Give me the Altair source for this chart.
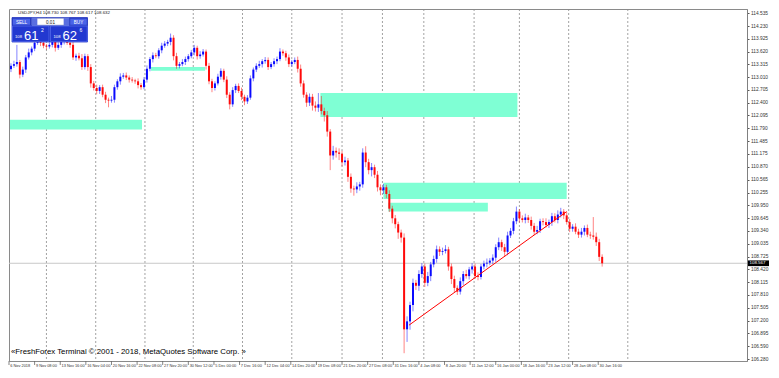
import altair as alt
import pandas as pd

# ---------------- data ----------------
first_open = 113.20
close = [
    113.28, 113.32, 113.37, 113.07, 113.19, 113.48, 113.60, 113.69, 113.83, 113.92,
    113.83, 113.76, 113.74, 113.78, 113.85, 113.71, 113.78, 113.85, 113.88, 113.83,
    113.78, 113.48, 113.52, 113.46, 113.25, 113.51, 113.25, 112.86, 112.75, 112.68,
    112.77, 112.59, 112.47, 112.45, 112.47, 112.77, 112.91, 113.02, 113.05, 113.00,
    112.95, 112.93, 112.91, 112.82, 112.77, 112.95, 113.21, 113.44, 113.53, 113.51,
    113.65, 113.76, 113.81, 113.85, 113.95, 113.51, 113.28, 113.32, 113.37, 113.44,
    113.51, 113.60, 113.71, 113.51, 113.55, 113.62, 113.28, 112.91, 112.75, 112.86,
    113.02, 113.16, 112.95, 112.59, 112.36, 112.70, 112.80, 112.68, 112.54, 112.43,
    112.52, 112.98, 113.19, 113.28, 113.32, 113.39, 113.42, 113.25, 113.32, 113.39,
    113.44, 113.62, 113.58, 113.48, 113.32, 113.37, 113.42, 113.21, 112.86, 112.59,
    112.40, 112.54, 112.33, 112.28, 112.36, 112.20, 112.10, 111.71, 111.14, 111.25,
    111.21, 111.18, 110.98, 111.02, 110.63, 110.35, 110.33, 110.40, 110.45, 111.21,
    110.98, 110.79, 110.86, 110.68, 110.38, 110.31, 110.38, 110.22, 109.87, 109.64,
    109.50, 109.30, 109.18, 106.99, 107.18, 107.57, 108.10, 108.03, 108.31, 108.49,
    108.10, 108.26, 108.54, 108.67, 108.90, 108.84, 108.86, 108.90, 108.49, 108.19,
    107.98, 107.89, 108.14, 108.31, 108.26, 108.42, 108.49, 108.26, 108.24, 108.49,
    108.56, 108.58, 108.63, 108.70, 108.95, 109.07, 108.95, 108.84, 109.23, 109.34,
    109.57, 109.80, 109.64, 109.60, 109.66, 109.60, 109.46, 109.32, 109.36, 109.57,
    109.55, 109.48, 109.55, 109.69, 109.60, 109.73, 109.80, 109.71, 109.55, 109.39,
    109.44, 109.32, 109.25, 109.32, 109.41, 109.25, 109.23, 109.20, 109.07, 108.72,
    108.567,
]
wick_up = [
    .06, .08, .41, .05, .07, .06, .09, .05, .08, .06,
    .05, .07, .04, .06, .08, .05, .06, .09, .05, .07,
    .06, .08, .05, .07, .10, .06, .05, .07, .06, .08,
    .05, .06, .07, .05, .09, .06, .05, .08, .06, .07,
    .05, .06, .04, .07, .05, .06, .08, .05, .07, .06,
    .05, .07, .06, .05, .10, .06, .08, .05, .07, .06,
    .05, .06, .07, .05, .08, .06, .05, .07, .06, .05,
    .07, .06, .05, .08, .06, .07, .05, .06, .08, .05,
    .06, .07, .05, .06, .08, .05, .07, .06, .05, .07,
    .06, .08, .05, .06, .07, .05, .06, .08, .10, .07,
    .06, .08, .07, .10, .27, .20, .08, .10, .06, .12,
    .08, .10, .07, .09, .06, .08, .07, .10, .06, .10,
    .15, .08, .10, .06, .09, .07, .08, .06, .09, .07,
    .08, .06, .07, .10, .12, .08, .10, .07, .09, .08,
    .07, .10, .06, .08, .09, .07, .08, .10, .06, .07,
    .08, .06, .09, .07, .10, .06, .08, .07, .09, .06,
    .07, .10, .06, .08, .07, .11, .06, .08, .09, .07,
    .08, .12, .06, .07, .09, .06, .08, .07, .10, .06,
    .07, .09, .06, .08, .07, .10, .09, .06, .08, .07,
    .06, .08, .07, .09, .06, .08, .07, .44, .10, .08,
    .06,
]
wick_dn = [
    .07, .05, .06, .09, .06, .08, .05, .07, .06, .05,
    .08, .06, .07, .05, .06, .09, .05, .07, .06, .05,
    .07, .06, .08, .05, .07, .06, .09, .10, .06, .08,
    .07, .06, .08, .16, .05, .07, .06, .08, .05, .06,
    .07, .05, .06, .08, .06, .05, .07, .06, .08, .05,
    .06, .07, .05, .06, .08, .10, .07, .06, .05, .07,
    .06, .05, .07, .08, .06, .05, .09, .07, .10, .06,
    .05, .07, .06, .08, .12, .06, .07, .05, .08, .09,
    .06, .05, .07, .06, .05, .08, .06, .07, .05, .06,
    .07, .05, .06, .08, .07, .06, .05, .09, .08, .07,
    .10, .08, .12, .09, .10, .08, .15, .12, .35, .10,
    .12, .15, .10, .08, .12, .10, .15, .09, .10, .08,
    .12, .10, .15, .08, .10, .12, .09, .10, .08, .12,
    .10, .15, .12, .57, .30, .20, .15, .10, .12, .09,
    .10, .08, .12, .07, .09, .10, .08, .06, .10, .12,
    .10, .08, .07, .09, .06, .08, .10, .07, .08, .06,
    .07, .09, .06, .08, .10, .07, .09, .12, .08, .06,
    .08, .07, .10, .06, .08, .07, .09, .08, .06, .07,
    .08, .06, .07, .09, .06, .08, .07, .09, .06, .08,
    .07, .06, .08, .07, .09, .06, .08, .07, .09, .10,
    .08,
]

price_ticks = [106.280, 106.590, 106.895, 107.200, 107.505, 107.810, 108.115,
               108.420, 108.725, 109.035, 109.340, 109.645, 109.950, 110.255,
               110.565, 110.870, 111.175, 111.485, 111.790, 112.095, 112.400,
               112.705, 113.010, 113.315, 113.620, 113.925, 114.230, 114.535]

time_labels = ["6 Nov 2018", "9 Nov 08:00", "13 Nov 16:00", "16 Nov 04:00",
               "20 Nov 16:00", "22 Nov 08:00", "27 Nov 20:00", "30 Nov 12:00",
               "5 Dec 00:00", "7 Dec 16:00", "12 Dec 04:00", "14 Dec 20:00",
               "19 Dec 08:00", "21 Dec 20:00", "27 Dec 08:00", "31 Dec 16:00",
               "4 Jan 08:00", "8 Jan 20:00", "11 Jan 12:00", "16 Jan 00:00",
               "18 Jan 16:00", "23 Jan 12:00", "28 Jan 08:00", "30 Jan 16:00"]
time_label_bar = [-0.67, 8.0, 16.67, 25.33, 34.0, 42.67, 51.33, 60.0, 68.67,
                  77.33, 86.0, 94.67, 103.33, 112.0, 120.67, 129.33, 138.0,
                  146.67, 155.33, 164.0, 172.67, 181.33, 190.0, 198.67]

week_separators = [12.0, 28.67, 45.33, 61.67, 78.33, 95.0, 112.0, 125.67,
                   139.67, 156.67, 172.0, 188.67, 208.67]

zone_start = [-0.33, 47.33, 104.67, 126.0, 127.67]
zone_end = [44.33, 65.67, 171.33, 188.0, 161.33]
zone_top = [111.99, 113.25, 112.63, 110.49, 110.01]
zone_bottom = [111.76, 113.16, 112.06, 110.10, 109.80]

trend_bar = [134.67, 188.0]
trend_price = [107.09, 109.80]

bid = 108.567
header = "USDJPY,H4  108.730 108.767 108.617 108.632"
copyright_text = "«FreshForex Terminal © 2001 - 2018, MetaQuotes Software Corp. »"

# ---------------- tables ----------------
opens = [first_open] + close[:-1]
df = pd.DataFrame({"k": list(range(len(close))), "open": opens, "close": close})
df["high"] = [max(o, c) + w for o, c, w in zip(opens, close, wick_up)]
df["low"] = [min(o, c) - w for o, c, w in zip(opens, close, wick_dn)]
df["dir"] = ["up" if c >= o else "down" for o, c in zip(opens, close)]

zones = pd.DataFrame({"x1": zone_start, "x2": zone_end, "y1": zone_top, "y2": zone_bottom})
seps = pd.DataFrame({"k": week_separators})
trend = pd.DataFrame({"x1": [trend_bar[0]], "x2": [trend_bar[1]],
                      "y1": [trend_price[0]], "y2": [trend_price[1]]})

W, H = 738, 352
FONT = "Liberation Sans"

tl = pd.DataFrame({"k": time_label_bar, "label": time_labels,
                   "t0": [H] * len(time_labels), "t1": [H + 4] * len(time_labels),
                   "ty": [H + 3] * len(time_labels)})

xs = alt.Scale(domain=[-0.667, 249.0], nice=False, zero=False)
ys = alt.Scale(domain=[106.234, 114.636], nice=False, zero=False)
col = alt.Color("dir:N", scale=alt.Scale(domain=["up", "down"], range=["#0a0aff", "#ff0a0a"]), legend=None)

grid = alt.Chart(seps).mark_rule(color="#8c8c8c", strokeDash=[2, 2], strokeWidth=0.8).encode(
    x=alt.X("k:Q", scale=xs, axis=None))

bid_px = pd.DataFrame({"p": [bid], "hi": [bid + 0.068], "lo": [bid - 0.068],
                       "txt": [f"{bid:.3f}"], "bx1": [W + 1], "bx2": [W + 22], "tx": [W + 2.5]})

bidline = alt.Chart(bid_px).mark_rule(color="#c8c8c8", strokeWidth=1).encode(
    y=alt.Y("p:Q", scale=ys, axis=None))

rects = alt.Chart(zones).mark_rect(color="#7fffd4", opacity=1).encode(
    x=alt.X("x1:Q", scale=xs, axis=None), x2="x2:Q",
    y=alt.Y("y1:Q", scale=ys, axis=None), y2="y2:Q")

wicks = alt.Chart(df).mark_rule(strokeWidth=1, opacity=0.5).encode(
    x=alt.X("k:Q", scale=xs, axis=None),
    y=alt.Y("low:Q", scale=ys, axis=None), y2="high:Q", color=col)

bodies = alt.Chart(df).mark_rule(strokeWidth=2).encode(
    x=alt.X("k:Q", scale=xs, axis=None),
    y=alt.Y("open:Q", scale=ys,
            axis=alt.Axis(orient="right", values=price_ticks, format=".3f", title=None,
                          labelFontSize=4.8, labelFont=FONT, labelColor="#333333",
                          tickSize=2, tickColor="#555555", labelPadding=1.5,
                          domainColor="#808080", grid=False, labelOverlap=False)),
    y2="close:Q", color=col)

trendline = alt.Chart(trend).mark_rule(color="#ff0000", strokeWidth=1).encode(
    x=alt.X("x1:Q", scale=xs, axis=None), x2="x2:Q",
    y=alt.Y("y1:Q", scale=ys, axis=None), y2="y2:Q")

tticks = alt.Chart(tl).mark_rule(color="#666666", strokeWidth=0.8).encode(
    x=alt.X("k:Q", scale=xs, axis=None),
    y=alt.Y("t0:Q", scale=None, axis=None), y2="t1:Q")
ttext = alt.Chart(tl).mark_text(align="left", baseline="top", fontSize=3.9, font=FONT,
                                color="#333333", dx=1.3).encode(
    x=alt.X("k:Q", scale=xs, axis=None),
    y=alt.Y("ty:Q", scale=None, axis=None), text="label:N")

bidbox = alt.Chart(bid_px).mark_rect(color="#000000").encode(
    x=alt.X("bx1:Q", scale=None, axis=None), x2="bx2:Q",
    y=alt.Y("hi:Q", scale=ys, axis=None), y2="lo:Q")
bidtext = alt.Chart(bid_px).mark_text(align="left", baseline="middle", fontSize=4.4, font=FONT,
                                      color="#ffffff").encode(
    x=alt.X("tx:Q", scale=None, axis=None), y=alt.Y("p:Q", scale=ys, axis=None), text="txt:N")

# one-click trading panel (pixel layout)
panel_boxes = pd.DataFrame([
    dict(x1=3, x2=78.5, y1=8.6, y2=33, fill="#1b2fc0", line="#1b2fc0"),
    dict(x1=3.4, x2=21.5, y1=9.2, y2=16.2, fill="#4a64e8", line="#2436b8"),
    dict(x1=23, x2=60, y1=9.2, y2=16.2, fill="#ffffff", line="#8a96c8"),
    dict(x1=23, x2=28, y1=9.2, y2=16.2, fill="#5a6ee0", line="#5a6ee0"),
    dict(x1=55, x2=60, y1=9.2, y2=16.2, fill="#5a6ee0", line="#5a6ee0"),
    dict(x1=60.8, x2=78.2, y1=9.2, y2=16.2, fill="#4a64e8", line="#2436b8"),
    dict(x1=3.4, x2=40, y1=17, y2=32.6, fill="#2238d0", line="#5a70f0"),
    dict(x1=41.5, x2=78.2, y1=17, y2=32.6, fill="#2238d0", line="#5a70f0"),
])
panel_rects = alt.Chart(panel_boxes).mark_rect(strokeWidth=0.7).encode(
    x=alt.X("x1:Q", scale=None, axis=None), x2="x2:Q",
    y=alt.Y("y1:Q", scale=None, axis=None), y2="y2:Q",
    fill=alt.Fill("fill:N", scale=None), stroke=alt.Stroke("line:N", scale=None))

panel_texts = pd.DataFrame([
    dict(x=9, y=5.3, t=header, s=4.4, c="#222222", a="left"),
    dict(x=12.5, y=14.6, t="SELL", s=4.6, c="#ffffff", a="center"),
    dict(x=69.5, y=14.6, t="BUY", s=4.6, c="#ffffff", a="center"),
    dict(x=41.5, y=14.6, t="0.01", s=4.6, c="#222222", a="center"),
    dict(x=6, y=29, t="108", s=4.2, c="#ffffff", a="left"),
    dict(x=15, y=30.5, t="61", s=13, c="#ffffff", a="left"),
    dict(x=32, y=22.5, t="2", s=5, c="#ffffff", a="left"),
    dict(x=44.5, y=29, t="108", s=4.2, c="#ffffff", a="left"),
    dict(x=53.5, y=30.5, t="62", s=13, c="#ffffff", a="left"),
    dict(x=70.5, y=22.5, t="6", s=5, c="#ffffff", a="left"),
    dict(x=2, y=345, t=copyright_text, s=7.8, c="#000000", a="left"),
])
ptxt_layers = []
for align in ["left", "center"]:
    sub = panel_texts[panel_texts["a"] == align]
    ptxt_layers.append(
        alt.Chart(sub).mark_text(align=align, baseline="alphabetic", font=FONT).encode(
            x=alt.X("x:Q", scale=None, axis=None),
            y=alt.Y("y:Q", scale=None, axis=None),
            text="t:N",
            size=alt.Size("s:Q", scale=None, legend=None),
            color=alt.Color("c:N", scale=None, legend=None)))

chart = alt.layer(grid, bidline, rects, wicks, bodies, trendline, tticks, ttext,
                  bidbox, bidtext, panel_rects, *ptxt_layers).resolve_scale(
    x="independent", y="independent", color="independent", size="independent"
).properties(
    width=W, height=H, padding=0, background="#ffffff"
).configure_view(stroke="#8a8a8a", strokeWidth=1)

chart.save("out.html", embed_options={"renderer": "svg", "actions": False})
